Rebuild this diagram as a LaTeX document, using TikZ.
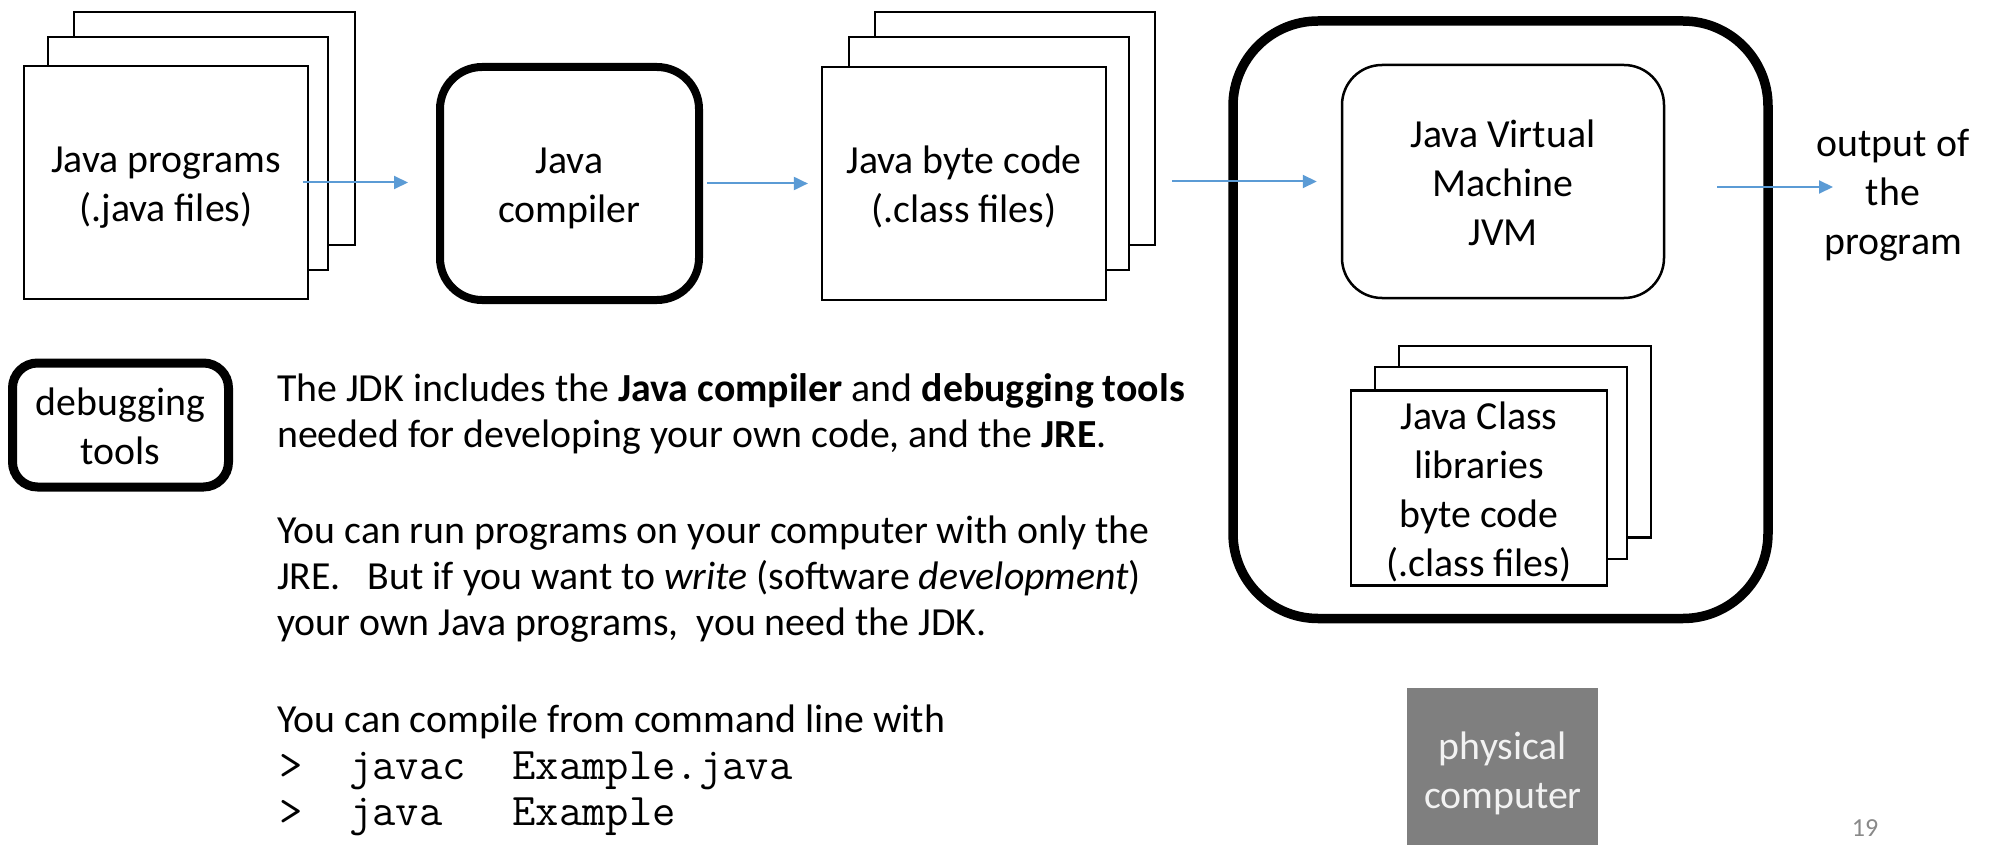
\documentclass[tikz,border=0pt]{standalone}
\usepackage{fontspec}
\setmainfont{Carlito}
\usetikzlibrary{arrows.meta}
\definecolor{arrowblue}{HTML}{5B9BD5}
\definecolor{pcgray}{HTML}{7F7F7F}
\definecolor{pctext}{HTML}{F2F2F2}
\definecolor{numgray}{HTML}{898989}
\newcommand\bodyfont{\fontsize{39.8}{47.5}\selectfont}
\newcommand\widefont{\fontsize{39.8}{49}\selectfont}
\newcommand\codefont{\fontsize{45.3}{47}\selectfont\ttfamily}
% line strut for box labels: sits the text a little low in its line
\newcommand\ls{\vrule width 0pt height 38.5pt depth 9.5pt\relax}
\newcommand\lsw{\vrule width 0pt height 39.3pt depth 9.7pt\relax}

\begin{document}
\begin{tikzpicture}[x=1pt,y=-1pt,
  sheet/.style={draw=black, line width=2.2pt, fill=white, inner sep=0pt,
                align=center, font=\bodyfont},
  toolbox/.style={draw=black, fill=white, inner sep=0pt, align=center, font=\bodyfont},
  label/.style={inner sep=0pt, align=center, font=\bodyfont},
  line/.style={inner sep=0pt, anchor=base west, font=\bodyfont},
  codeline/.style={inner sep=0pt, anchor=base west, font=\codefont},
  flow/.style={draw=arrowblue, line width=2pt, -{Triangle[length=14pt,width=13pt]}}]

\fill[white] (0,0) rectangle (1990,845);
\useasboundingbox (0,0) rectangle (1990,845);

% source files
\node[sheet, minimum width=281pt, minimum height=233pt] (jpBack) at (214.5,128.5) {};
\node[sheet, minimum width=280pt, minimum height=233pt] (jpMid) at (188,153.5) {};
\node[sheet, minimum width=284pt, minimum height=233pt] (jp) at (166,182.5)
  {\ls Java programs\\\ls (.java files)};

% compiler
\node[toolbox, line width=8pt, rounded corners=42pt, minimum width=259pt,
      minimum height=233pt] (comp) at (569.5,183.5) {\ls Java\\\ls compiler};

% byte code files
\node[sheet, minimum width=280pt, minimum height=233pt] (clsBack) at (1015,128.5) {};
\node[sheet, minimum width=280pt, minimum height=233pt] (clsMid) at (989,153.5) {};
\node[sheet, minimum width=284pt, minimum height=233pt] (cls) at (964,183.5)
  {\ls Java byte code\\\ls (.class files)};

% runtime environment
\node[toolbox, line width=9.5pt, rounded corners=85pt, minimum width=535pt,
      minimum height=597.5pt] (jre) at (1500.5,319.75) {};
\node[toolbox, font=\widefont, line width=2.5pt, rounded corners=40pt, minimum width=322pt,
      minimum height=233pt] (jvm) at (1503,181.5)
  {\lsw Java Virtual\\\lsw Machine\\\lsw JVM};
\node[sheet, minimum width=252pt, minimum height=191.5pt] (libBack) at (1525,441.75) {};
\node[sheet, minimum width=252pt, minimum height=192pt] (libMid) at (1501,463) {};
\node[sheet, minimum width=256pt, minimum height=192pt] (lib) at (1479,488)
  {\ls Java Class\\\ls libraries\\\ls byte code\\\ls (.class files)};

% program output
\node[label] (outp) at (1893,191) {\ls output of\\\ls the\\\ls program};

% debugging tools
\node[toolbox, line width=9pt, rounded corners=25pt, minimum width=216pt,
      minimum height=124pt] (dbg) at (120.5,425) {\ls debugging\\\ls tools};

% physical computer
\node[fill=pcgray, inner sep=0pt, minimum width=191pt, minimum height=157pt]
  (pc) at (1502.5,766.5) {};
\node[label, text=pctext] (pcLabel) at (1503,769)
  {\ls physical\\\ls computer};

% flow arrows
\coordinate (outIn) at (1833,187);
\draw[flow] ([xshift=-6pt]jp.east) -- ([xshift=-28pt]comp.west |- jp.east);
\draw[flow] ([xshift=4pt]comp.east) -- ([xshift=-13pt]cls.west);
\draw[flow] ([xshift=16pt]clsBack.east |- jvm.west) -- ([xshift=-24pt]jvm.west);
\draw[flow] ([xshift=52pt]jvm.east |- outIn) -- (outIn);

% explanatory text
\node[line] (t1) at (277,401.5)
  {The JDK includes the \textbf{Java compiler} and \textbf{debugging tools}};
\node[line] (t2) at (277,447)
  {needed for developing your own code, and the \textbf{JRE}.};
\node[line] (t3) at (277,543.5)
  {You can run programs on your computer with only the};
\node[line] (t4) at (277,589)
  {JRE.~~~But if you want to \textit{write} (software \textit{development})};
\node[line] (t5) at (277,635)
  {your own Java programs,~~you need the JDK.};
\node[line] (t6) at (277,732.5)
  {You can compile from command line with};
\node[codeline] (t7) at (279,779) {>~~javac~~Example.java};
\node[codeline] (t8) at (279,825) {>~~java~~~Example};

% slide number
\node[inner sep=0pt, font=\fontsize{26}{30}\selectfont, text=numgray] (pnum) at (1865,828) {19};

\end{tikzpicture}
\end{document}
